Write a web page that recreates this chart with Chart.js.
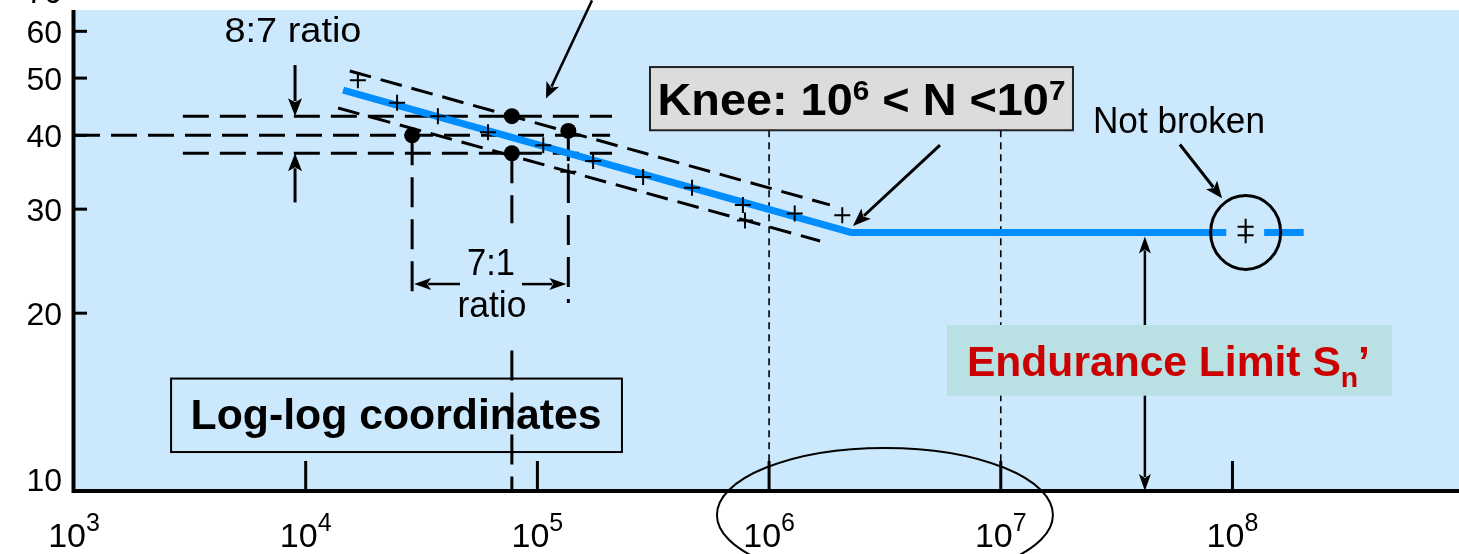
<!DOCTYPE html>
<html>
<head>
<meta charset="utf-8">
<title>S-N diagram</title>
<script src="https://cdn.jsdelivr.net/npm/chart.js@4.4.1/dist/chart.umd.min.js"></script>
<style>
  html, body { margin: 0; padding: 0; background: #ffffff; }
  #wrap { width: 1459px; height: 554px; position: relative; overflow: hidden; }
  canvas { display: block; }
</style>
</head>
<body>
<div id="wrap"><canvas id="sn" width="1459" height="554"></canvas></div>
<script>
// ---- Data (cycles N, stress S) ----
// Fitted S-N curve: sloped segment, knee, then endurance plateau (gap around the run-out circle)
const curveN = [1.45e4, 2.26e6, 9.4e7, 1.1e8, 1.37e8, 2.03e8];
const curveS = [47.7, 27.4, 27.4, null, 27.4, 27.4];

// Broken specimens (+)
const failureN = [1.68e4, 2.48e4, 3.72e4, 6.12e4, 1.06e5, 1.36e5, 1.74e5, 2.86e5, 4.65e5, 7.71e5, 7.87e5, 1.29e6, 2.07e6];
const failureS = [49.6, 45.4, 43.1, 40.5, 38.5, 34.7, 36.2, 34.0, 32.6, 30.5, 28.7, 29.5, 29.3];

// Unbroken (run-out) specimens, drawn as a double cross
const runoutN = [1.14e8, 1.14e8];
const runoutS = [28.0, 27.1];

// Scatter-band reference points (●) used for the 8:7 and 7:1 ratios
const ratioN = [2.88e4, 7.76e4, 7.76e4, 1.36e5];
const ratioS = [40.0, 43.1, 37.3, 40.7];

// Scatter band limits
const upperBandN = [1.55e4, 1.83e6];
const upperBandS = [51.4, 30.5];
const lowerBandN = [1.38e4, 1.66e6];
const lowerBandS = [44.5, 26.5];

// Axis ticks
const xTickValues = [1e3, 1e4, 1e5, 1e6, 1e7, 1e8];
const xTickExponents = ['3', '4', '5', '6', '7', '8'];
const yTickValues = [10, 20, 30, 40, 50, 60, 70];
const yTickLabels = ['10', '20', '30', '40', '50', '60', '70'];

// ---- Styling ----
const PLOT_BG = 'rgb(204,232,252)';
const CURVE_BLUE = 'rgb(0,142,255)';
const FONT = "'Liberation Sans', Arial, sans-serif";

const pts = (xs, ys) => xs.map((x, i) => ({ x: x, y: ys[i] }));
const seg = (x1, y1, x2, y2) => [{ x: x1, y: y1 }, { x: x2, y: y2 }];

function guide(data, dash, order) {
  return {
    data: data, showLine: true, borderColor: '#000', borderWidth: 3,
    borderDash: dash, pointRadius: 0, fill: false, order: order
  };
}

const hStart = 2.95e3, hEnd = 2.1e5;
const datasets = [
  { label: 'Broken', data: pts(failureN, failureS), pointStyle: 'cross', pointRadius: 8,
    borderColor: '#000', borderWidth: 2, showLine: false, order: 0 },
  { label: 'Not broken', data: pts(runoutN, runoutS), pointStyle: 'cross', pointRadius: 8,
    borderColor: '#000', borderWidth: 2, showLine: false, order: 0 },
  { label: 'Ratio points', data: pts(ratioN, ratioS), pointStyle: 'circle', pointRadius: 8,
    backgroundColor: '#000', borderColor: '#000', borderWidth: 0, showLine: false, order: 1 },
  { label: 'S-N curve', data: pts(curveN, curveS), showLine: true, spanGaps: false,
    borderColor: CURVE_BLUE, borderWidth: 7, pointRadius: 0, borderCapStyle: 'butt', order: 2 },
  guide(pts(upperBandN, upperBandS), [22, 10], 3),
  guide(pts(lowerBandN, lowerBandS), [22, 10], 3),
  // 8:7 ratio horizontals
  guide(seg(hStart, ratioS[1], hEnd, ratioS[1]), [26, 11], 3),
  guide(seg(1e3, ratioS[0], 2.06e5, ratioS[0]), [26, 11], 3),
  guide(seg(hStart, ratioS[2], hEnd, ratioS[2]), [26, 11], 3),
  // 7:1 ratio verticals
  guide(seg(ratioN[0], ratioS[0], ratioN[0], 20.8), [30, 12], 3),
  guide(seg(ratioN[3], ratioS[3], ratioN[3], 20.8), [30, 12], 3),
  guide(seg(ratioN[1], ratioS[2], ratioN[1], 28.4), [30, 12], 3),
  guide(seg(ratioN[1], 17.3, ratioN[1], 10), [30, 12], 3)
];

// ---- Drawing helpers ----
function richText(ctx, parts, x, baseline, width, align, color) {
  let natural = 0;
  parts.forEach(p => {
    ctx.font = (p.weight || 'normal') + ' ' + p.size + 'px ' + FONT;
    p.w = ctx.measureText(p.text).width;
    natural += p.w;
  });
  const k = width ? width / natural : 1;
  const total = natural * k;
  const start = align === 'center' ? x - total / 2 : (align === 'right' ? x - total : x);
  ctx.save();
  ctx.translate(start, baseline);
  ctx.scale(k, 1);
  ctx.fillStyle = color || '#000';
  ctx.textBaseline = 'alphabetic';
  ctx.textAlign = 'left';
  let cx = 0;
  parts.forEach(p => {
    ctx.font = (p.weight || 'normal') + ' ' + p.size + 'px ' + FONT;
    ctx.fillText(p.text, cx, p.dy || 0);
    cx += p.w;
  });
  ctx.restore();
}

function arrow(ctx, x1, y1, x2, y2, head, half, lw) {
  head = head || 16; half = half || 6; lw = lw || 2.5;
  const a = Math.atan2(y2 - y1, x2 - x1);
  const bx = x2 - head * Math.cos(a), by = y2 - head * Math.sin(a);
  ctx.save();
  ctx.strokeStyle = '#000'; ctx.fillStyle = '#000'; ctx.lineWidth = lw; ctx.setLineDash([]);
  ctx.beginPath(); ctx.moveTo(x1, y1); ctx.lineTo(bx + 3 * Math.cos(a), by + 3 * Math.sin(a)); ctx.stroke();
  const nx = -Math.sin(a), ny = Math.cos(a);
  const rx = x2 - (head - 4) * Math.cos(a), ry = y2 - (head - 4) * Math.sin(a);
  ctx.beginPath();
  ctx.moveTo(x2, y2);
  ctx.lineTo(bx + half * nx, by + half * ny);
  ctx.lineTo(rx, ry);
  ctx.lineTo(bx - half * nx, by - half * ny);
  ctx.closePath(); ctx.fill();
  ctx.restore();
}

// ---- Plugins ----
const backgroundPlugin = {
  id: 'plotBackground',
  beforeDraw(chart) {
    const { ctx, chartArea: a } = chart;
    ctx.save();
    ctx.fillStyle = '#ffffff';
    ctx.fillRect(0, 0, chart.width, chart.height);
    ctx.fillStyle = PLOT_BG;
    ctx.fillRect(a.left, a.top, a.right - a.left, a.bottom - a.top);
    ctx.restore();
  },
  beforeDatasetsDraw(chart) {
    const { ctx, scales: { x: xs, y: ys } } = chart;
    const P = (e, s) => ({ x: xs.getPixelForValue(Math.pow(10, e)), y: ys.getPixelForValue(s) });
    ctx.save();
    // Knee region dotted verticals at 10^6 and 10^7
    ctx.strokeStyle = '#000'; ctx.lineWidth = 1.6; ctx.setLineDash([7, 5]);
    [6, 7].forEach(e => {
      const t = P(e, 40.8), b = P(e, 10);
      ctx.beginPath(); ctx.moveTo(t.x, t.y); ctx.lineTo(b.x, b.y); ctx.stroke();
    });
    ctx.setLineDash([]);
    // "Log-log coordinates" box
    const l1 = P(3.419, 15.5), l2 = P(5.365, 11.64);
    ctx.lineWidth = 2; ctx.strokeStyle = '#000';
    ctx.strokeRect(l1.x, l1.y, l2.x - l1.x, l2.y - l1.y);
    const lt = P(4.390, 12.74);
    richText(ctx, [{ text: 'Log-log coordinates', size: 42, weight: 'bold' }], lt.x, lt.y, 411, 'center');
    ctx.restore();
  },
  afterDraw(chart) {
    const { ctx, chartArea: a, scales: { x: xs, y: ys } } = chart;
    const P = (e, s) => ({ x: xs.getPixelForValue(Math.pow(10, e)), y: ys.getPixelForValue(s) });
    ctx.save();

    // Axis lines
    ctx.strokeStyle = '#000'; ctx.lineWidth = 4; ctx.setLineDash([]);
    ctx.beginPath();
    ctx.moveTo(a.left - 0.5, a.top); ctx.lineTo(a.left - 0.5, a.bottom + 2);
    ctx.moveTo(a.left - 2.5, a.bottom); ctx.lineTo(a.right, a.bottom);
    ctx.stroke();

    // Inward tick marks
    ctx.lineWidth = 3;
    xTickValues.forEach(v => {
      if (v <= xs.min) return;
      const x = xs.getPixelForValue(v);
      ctx.beginPath(); ctx.moveTo(x, a.bottom - 30); ctx.lineTo(x, a.bottom); ctx.stroke();
    });
    yTickValues.forEach(v => {
      if (v <= ys.min || v >= ys.max) return;
      const y = ys.getPixelForValue(v);
      ctx.beginPath(); ctx.moveTo(a.left, y); ctx.lineTo(a.left + 13, y); ctx.stroke();
    });

    // Tick labels
    xTickValues.forEach((v, i) => {
      const x = xs.getPixelForValue(v);
      richText(ctx, [{ text: '10', size: 34 }, { text: xTickExponents[i], size: 25, dy: -16 }], x, 547, 0, 'center');
    });
    yTickValues.forEach((v, i) => {
      const y = ys.getPixelForValue(v);
      const base = v === ys.min ? y : y + 11.5;
      richText(ctx, [{ text: yTickLabels[i], size: 32 }], a.left - 12, base, 0, 'right');
    });

    // 8:7 ratio
    const r87 = P(3.945, 57.5);
    richText(ctx, [{ text: '8:7 ratio', size: 35 }], r87.x, r87.y, 137, 'center');
    let p1 = P(3.954, 52.6), p2 = P(3.954, ratioS[1]);
    arrow(ctx, p1.x, p1.y, p2.x, p2.y, 18, 7, 3);
    p1 = P(3.954, 30.8); p2 = P(3.954, ratioS[2]);
    arrow(ctx, p1.x, p1.y, p2.x, p2.y, 18, 7, 3);

    // 7:1 ratio
    p1 = P(4.666, 22.4); p2 = { x: xs.getPixelForValue(ratioN[0]), y: ys.getPixelForValue(22.4) };
    arrow(ctx, p1.x, p1.y, p2.x + 2, p2.y, 17, 6, 2.5);
    p1 = P(4.9335, 22.4); p2 = { x: xs.getPixelForValue(ratioN[3]), y: ys.getPixelForValue(22.4) };
    arrow(ctx, p1.x, p1.y, p2.x - 2, p2.y, 17, 6, 2.5);
    const t71 = P(4.800, 23.2), trat = P(4.804, 19.7);
    richText(ctx, [{ text: '7:1', size: 37 }], t71.x, t71.y, 48, 'center');
    richText(ctx, [{ text: 'ratio', size: 36 }], trat.x, trat.y, 69, 'center');

    // Pointer from above onto the upper scatter limit
    p1 = P(5.2357, 67.7); p2 = P(5.037, 46.2);
    arrow(ctx, p1.x, p1.y, p2.x, p2.y, 16, 7, 2.5);

    // Knee box
    const k1 = P(5.486, 52.2), k2 = P(7.3116, 40.8);
    ctx.fillStyle = '#dcdcdc';
    ctx.fillRect(k1.x, k1.y, k2.x - k1.x, k2.y - k1.y);
    ctx.strokeStyle = '#222'; ctx.lineWidth = 2;
    ctx.strokeRect(k1.x, k1.y, k2.x - k1.x, k2.y - k1.y);
    richText(ctx, [
      { text: 'Knee: 10', size: 44, weight: 'bold' },
      { text: '6', size: 28, weight: 'bold', dy: -15 },
      { text: ' < N <10', size: 44, weight: 'bold' },
      { text: '7', size: 28, weight: 'bold', dy: -15 }
    ], (k1.x + k2.x) / 2, k1.y + 48, 408, 'center');
    p1 = P(6.7376, 38.5); p2 = P(6.362, 28.1);
    arrow(ctx, p1.x, p1.y, p2.x, p2.y, 18, 7, 3);

    // Not broken
    const nb = P(7.769, 40.4);
    richText(ctx, [{ text: 'Not broken', size: 36 }], nb.x, nb.y, 172, 'center');
    p1 = P(7.773, 38.6); p2 = P(7.955, 31.3);
    arrow(ctx, p1.x, p1.y, p2.x, p2.y, 17, 7, 3);
    const c = { x: xs.getPixelForValue(runoutN[0]), y: ys.getPixelForValue(curveS[1]) };
    ctx.beginPath(); ctx.ellipse(c.x, c.y, 35, 37, 0, 0, Math.PI * 2);
    ctx.lineWidth = 3; ctx.strokeStyle = '#000'; ctx.stroke();

    // Endurance limit arrow and label
    const eTop = P(7.622, curveS[1]), eBot = P(7.622, 10);
    arrow(ctx, eTop.x, (eTop.y + eBot.y) / 2, eTop.x, eTop.y + 4, 17, 6, 2.5);
    arrow(ctx, eTop.x, (eTop.y + eBot.y) / 2, eBot.x, eBot.y, 17, 6, 2.5);
    const e1 = P(6.768, 19.1), e2 = P(8.688, 14.5);
    ctx.fillStyle = 'rgb(185,224,227)';
    ctx.fillRect(e1.x, e1.y, e2.x - e1.x, e2.y - e1.y);
    const et = P(6.854, 15.65);
    richText(ctx, [
      { text: 'Endurance Limit S', size: 42, weight: 'bold' },
      { text: 'n', size: 28, weight: 'bold', dy: 11 },
      { text: '\u2019', size: 42, weight: 'bold' }
    ], et.x, et.y, 403, 'left', 'rgb(204,0,0)');

    // Ellipse around the knee decades
    const el = P(6.5, 9.11);
    ctx.beginPath(); ctx.ellipse(el.x, el.y, 168, 67, 0, 0, Math.PI * 2);
    ctx.lineWidth = 2; ctx.strokeStyle = '#000'; ctx.stroke();

    ctx.restore();
  }
};

new Chart(document.getElementById('sn'), {
  type: 'scatter',
  data: { datasets: datasets },
  options: {
    responsive: false,
    animation: false,
    events: [],
    layout: { autoPadding: false, padding: { left: 74, top: 10, right: 0, bottom: 63 } },
    plugins: { legend: { display: false }, tooltip: { enabled: false } },
    scales: {
      x: { type: 'logarithmic', min: 1e3, max: 9.5e8, display: false },
      y: { type: 'logarithmic', min: 10, max: 65.2, display: false }
    }
  },
  plugins: [backgroundPlugin]
});
</script>
</body>
</html>
